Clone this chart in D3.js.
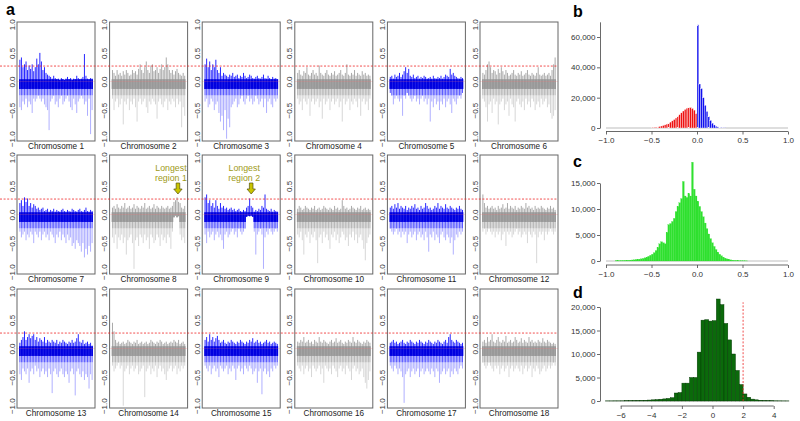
<!DOCTYPE html>
<html><head><meta charset="utf-8">
<script src="https://cdn.jsdelivr.net/npm/d3@7"></script>
<style>
body{margin:0;background:#fff}
svg{display:block}
text{font-family:"Liberation Sans",Arial,Helvetica,sans-serif}
</style>
</head><body>
<svg id="chart" width="800" height="421"></svg>
<script>
// ---------------- DATA ----------------
const chrNames = ["Chromosome 1","Chromosome 2","Chromosome 3","Chromosome 4","Chromosome 5","Chromosome 6",
  "Chromosome 7","Chromosome 8","Chromosome 9","Chromosome 10","Chromosome 11","Chromosome 12",
  "Chromosome 13","Chromosome 14","Chromosome 15","Chromosome 16","Chromosome 17","Chromosome 18"];
const chrHighlighted = [1,0,1,0,1,0,1,0,1,0,1,0,1,0,1,0,1,0];
const aTicks = [-1,-0.5,0,0.5,1];
const aThreshold = 0.27;

// upper / lower envelope of the signal along each chromosome
const up1=[0.38,0.42,0.25,0.3,0.35,0.2,0.28,0.22,0.3,0.18,0.25,0.4,0.3,0.5,0.35,0.2,0.25,0.15,0.12,0.1,0.08,0.05,0.1,0.06,0.04,0.05,0.03,0.06,0.04,0.03,0.05,0.08,0.04,0.06,0.03,0.05,0.04,0.1,0.06,0.04,0.05,0.08,0.48,0.1,0.05,0.04,0.06,0.05];
const dn1=[-0.45,-0.5,-0.35,-0.4,-0.3,-0.45,-0.35,-0.4,-0.55,-0.3,-0.35,-0.3,-0.25,-0.3,-0.35,-0.3,-0.4,-0.45,-0.5,-0.85,-0.35,-0.3,-0.25,-0.4,-0.35,-0.45,-0.3,-0.25,-0.4,-0.35,-0.3,-0.25,-0.35,-0.45,-0.5,-0.3,-0.4,-0.55,-0.35,-0.3,-0.25,-0.3,-0.4,-0.35,-0.6,-0.3,-0.92,-0.5];
const up2=[0.2,0.15,0.1,0.2,0.12,0.15,0.1,0.18,0.12,0.2,0.15,0.1,0.12,0.2,0.15,0.18,0.12,0.22,0.3,0.2,0.15,0.25,0.35,0.2,0.15,0.28,0.3,0.18,0.2,0.25,0.15,0.22,0.3,0.2,0.25,0.42,0.3,0.2,0.15,0.2,0.12,0.18,0.22,0.15,0.12,0.1,0.15,0.1];
const dn2=[-0.3,-0.5,-0.35,-0.3,-0.45,-0.4,-0.3,-0.75,-0.35,-0.4,-0.3,-0.5,-0.35,-0.4,-0.3,-0.45,-0.7,-0.35,-0.3,-0.4,-0.35,-0.3,-0.45,-0.55,-0.35,-0.4,-0.3,-0.35,-0.4,-0.65,-0.35,-0.3,-0.4,-0.45,-0.35,-0.3,-0.5,-0.35,-0.4,-0.3,-0.35,-0.45,-0.3,-0.4,-0.35,-0.8,-0.45,-0.6];
const up3=[0.3,0.4,0.25,0.35,0.2,0.3,0.25,0.38,0.2,0.15,0.25,0.1,0.15,0.12,0.1,0.08,0.12,0.1,0.15,0.08,0.1,0.12,0.06,0.1,0.08,0.15,0.1,0.06,0.08,0.12,0.1,0.06,0.05,0.08,0.1,0.06,0.05,0.08,0.12,0.06,0.05,0.1,0.06,0.04,0.08,0.05,0.06,0.04];
const dn3=[-0.35,-0.3,-0.45,-0.4,-0.3,-0.35,-0.5,-0.4,-0.35,-0.55,-0.7,-0.6,-0.85,-0.5,-1.0,-0.65,-0.8,-0.45,-0.4,-0.35,-0.3,-0.45,-0.4,-0.3,-0.25,-0.35,-0.4,-0.3,-0.25,-0.35,-0.3,-0.4,-0.35,-0.25,-0.3,-0.4,-0.35,-0.3,-0.45,-0.3,-0.55,-0.35,-0.3,-0.4,-0.45,-0.3,-0.35,-0.3];
const up4=[0.15,0.2,0.12,0.1,0.18,0.15,0.25,0.12,0.1,0.15,0.2,0.12,0.15,0.1,0.28,0.15,0.12,0.1,0.15,0.2,0.12,0.1,0.15,0.12,0.18,0.1,0.12,0.15,0.2,0.12,0.1,0.15,0.3,0.12,0.1,0.15,0.12,0.2,0.1,0.15,0.12,0.1,0.18,0.12,0.15,0.1,0.12,0.1];
const dn4=[-0.3,-0.4,-0.35,-0.5,-0.3,-0.35,-0.4,-0.3,-0.6,-0.35,-0.3,-0.4,-0.35,-0.3,-0.45,-0.35,-0.65,-0.3,-0.4,-0.35,-0.3,-0.5,-0.35,-0.3,-0.4,-0.35,-0.3,-0.45,-0.35,-0.7,-0.3,-0.4,-0.35,-0.3,-0.5,-0.35,-0.4,-0.3,-0.35,-0.45,-0.3,-0.6,-0.35,-0.3,-0.4,-0.35,-0.5,-0.3];
const up5=[0.08,0.1,0.05,0.12,0.08,0.1,0.15,0.08,0.12,0.18,0.25,0.15,0.22,0.1,0.08,0.12,0.06,0.08,0.1,0.05,0.08,0.06,0.1,0.08,0.05,0.06,0.08,0.05,0.1,0.06,0.05,0.08,0.06,0.1,0.05,0.08,0.12,0.1,0.08,0.22,0.12,0.15,0.1,0.08,0.06,0.05,0.08,0.06];
const dn5=[-0.2,-0.25,-0.4,-0.3,-0.25,-0.3,-0.35,-0.3,-0.6,-0.25,-0.3,-0.2,-0.25,-0.3,-0.35,-0.3,-0.25,-0.35,-0.3,-0.4,-0.3,-0.25,-0.35,-0.3,-0.4,-0.3,-0.7,-0.35,-0.45,-0.3,-0.4,-0.35,-0.5,-0.35,-0.4,-0.3,-0.45,-0.35,-0.3,-0.4,-0.55,-0.3,-0.35,-0.4,-0.3,-0.25,-0.3,-0.2];
const up6=[0.15,0.12,0.2,0.3,0.35,0.25,0.15,0.2,0.18,0.12,0.22,0.15,0.25,0.18,0.12,0.2,0.15,0.1,0.12,0.15,0.2,0.12,0.1,0.15,0.12,0.18,0.1,0.12,0.15,0.2,0.12,0.1,0.15,0.12,0.1,0.15,0.25,0.12,0.1,0.12,0.15,0.1,0.12,0.15,0.1,0.2,0.3,0.42];
const dn6=[-0.3,-0.35,-0.45,-0.7,-0.4,-0.35,-0.55,-0.3,-0.4,-0.35,-0.75,-0.4,-0.35,-0.3,-0.5,-0.4,-0.35,-0.6,-0.3,-0.4,-0.45,-0.7,-0.35,-0.3,-0.4,-0.45,-0.35,-0.5,-0.3,-0.4,-0.35,-0.45,-0.3,-0.35,-0.5,-0.4,-0.35,-0.45,-0.3,-0.4,-0.35,-0.3,-0.45,-0.4,-0.55,-0.65,-0.6,-0.5];
const up7=[0.2,0.25,0.15,0.3,0.22,0.28,0.15,0.2,0.12,0.18,0.15,0.1,0.12,0.08,0.1,0.12,0.06,0.08,0.1,0.05,0.08,0.06,0.1,0.05,0.08,0.06,0.05,0.08,0.1,0.06,0.05,0.08,0.06,0.05,0.1,0.08,0.06,0.05,0.08,0.1,0.06,0.05,0.08,0.12,0.06,0.05,0.08,0.06];
const dn7=[-0.3,-0.4,-0.35,-0.3,-0.45,-0.35,-0.4,-0.3,-0.35,-0.5,-0.3,-0.35,-0.4,-0.3,-0.45,-0.35,-0.3,-0.4,-0.35,-0.45,-0.3,-0.35,-0.4,-0.5,-0.35,-0.4,-0.3,-0.45,-0.35,-0.4,-0.5,-0.35,-0.45,-0.4,-0.55,-0.5,-0.6,-0.45,-0.5,-0.55,-0.65,-0.5,-0.75,-0.6,-0.7,-0.55,-0.65,-0.5];
const up8=[0.12,0.15,0.1,0.18,0.12,0.1,0.15,0.12,0.2,0.1,0.12,0.15,0.1,0.12,0.18,0.1,0.15,0.12,0.1,0.15,0.12,0.2,0.1,0.12,0.15,0.1,0.12,0.18,0.1,0.15,0.12,0.1,0.15,0.12,0.1,0.12,0.15,0.1,0.12,0.15,0.22,0.25,0.3,0.22,0.2,0.12,0.1,0.15];
const dn8=[-0.4,-0.5,-0.35,-0.6,-0.4,-0.45,-0.35,-0.5,-0.4,-0.7,-0.45,-0.4,-0.35,-0.5,-0.95,-0.45,-0.4,-0.55,-0.35,-0.4,-0.5,-0.35,-0.45,-0.4,-0.6,-0.35,-0.4,-0.5,-0.45,-0.35,-0.4,-0.55,-0.35,-0.45,-0.4,-0.5,-0.35,-0.4,-0.6,-0.3,-0.05,-0.02,-0.05,-0.03,-0.35,-0.45,-0.4,-0.5];
const up9=[0.3,0.35,0.2,0.25,0.15,0.2,0.12,0.25,0.15,0.1,0.2,0.12,0.15,0.1,0.12,0.08,0.1,0.12,0.08,0.1,0.06,0.08,0.1,0.06,0.05,0.08,0.06,0.12,0.15,0.28,0.15,0.12,0.05,0.08,0.06,0.1,0.08,0.15,0.12,0.35,0.1,0.08,0.06,0.1,0.05,0.08,0.06,0.05];
const dn9=[-0.35,-0.5,-0.3,-0.4,-0.35,-0.3,-0.45,-0.35,-0.3,-0.4,-0.35,-0.45,-0.6,-0.35,-0.3,-0.4,-0.35,-0.3,-0.25,-0.35,-0.3,-0.4,-0.25,-0.3,-0.35,-0.3,-0.25,-0.04,-0.02,-0.03,-0.02,-0.04,-0.3,-0.7,-0.35,-0.3,-0.25,-0.35,-0.95,-0.4,-0.3,-0.35,-0.25,-0.3,-0.35,-0.3,-0.25,-0.3];
const up10=[0.1,0.15,0.12,0.08,0.1,0.15,0.12,0.1,0.08,0.12,0.1,0.15,0.08,0.1,0.12,0.08,0.1,0.15,0.12,0.1,0.08,0.12,0.1,0.08,0.15,0.1,0.12,0.08,0.1,0.25,0.15,0.1,0.12,0.08,0.1,0.15,0.12,0.1,0.08,0.12,0.1,0.15,0.08,0.1,0.12,0.08,0.1,0.08];
const dn10=[-0.35,-0.4,-0.3,-0.45,-0.7,-0.35,-0.4,-0.3,-0.5,-0.35,-0.4,-0.3,-0.45,-0.85,-0.4,-0.35,-0.5,-0.3,-0.4,-0.35,-0.45,-0.6,-0.35,-0.4,-0.3,-0.45,-0.35,-0.5,-0.4,-0.3,-0.35,-0.45,-0.4,-0.55,-0.35,-0.4,-0.3,-0.45,-0.35,-0.5,-0.4,-0.35,-0.45,-0.6,-0.8,-0.5,-0.4,-0.35];
const up11=[0.12,0.15,0.1,0.18,0.12,0.2,0.1,0.15,0.12,0.1,0.15,0.08,0.12,0.1,0.15,0.12,0.18,0.1,0.12,0.08,0.15,0.1,0.12,0.2,0.15,0.1,0.12,0.08,0.1,0.15,0.12,0.2,0.1,0.15,0.12,0.1,0.18,0.12,0.1,0.15,0.12,0.1,0.08,0.12,0.1,0.15,0.1,0.08];
const dn11=[-0.25,-0.3,-0.35,-0.3,-0.25,-0.35,-0.3,-0.4,-0.3,-0.35,-0.3,-0.5,-0.35,-0.3,-0.4,-0.35,-0.3,-0.45,-0.35,-0.3,-0.4,-0.35,-0.45,-0.3,-0.4,-0.65,-0.35,-0.4,-0.3,-0.45,-0.35,-0.4,-0.5,-0.35,-0.3,-0.4,-0.45,-0.35,-0.4,-0.5,-0.4,-0.7,-0.45,-0.35,-0.4,-0.3,-0.35,-0.3];
const up12=[0.35,0.2,0.12,0.15,0.1,0.12,0.15,0.1,0.12,0.08,0.15,0.1,0.12,0.18,0.1,0.12,0.2,0.1,0.15,0.12,0.1,0.15,0.08,0.12,0.1,0.15,0.12,0.1,0.2,0.12,0.15,0.1,0.12,0.08,0.15,0.1,0.12,0.1,0.15,0.12,0.1,0.08,0.12,0.1,0.15,0.1,0.12,0.08];
const dn12=[-0.3,-0.25,-0.35,-0.3,-0.25,-0.3,-0.35,-0.3,-0.4,-0.3,-0.35,-0.3,-0.45,-0.35,-0.3,-0.55,-0.3,-0.35,-0.3,-0.4,-0.35,-0.3,-0.25,-0.35,-0.3,-0.4,-0.35,-0.3,-0.35,-0.5,-0.3,-0.35,-0.4,-0.3,-0.35,-0.85,-0.4,-0.3,-0.35,-0.3,-0.45,-0.3,-0.35,-0.3,-0.25,-0.3,-0.35,-0.3];
const up13=[0.1,0.15,0.2,0.3,0.15,0.2,0.25,0.18,0.22,0.25,0.15,0.2,0.12,0.18,0.15,0.12,0.2,0.1,0.15,0.12,0.1,0.15,0.12,0.1,0.15,0.08,0.12,0.1,0.15,0.12,0.1,0.08,0.12,0.1,0.15,0.1,0.12,0.18,0.25,0.12,0.1,0.15,0.08,0.1,0.12,0.08,0.1,0.05];
const dn13=[-0.45,-0.55,-0.35,-0.4,-0.45,-0.35,-0.6,-0.4,-0.35,-0.45,-0.3,-0.4,-0.35,-0.5,-0.4,-0.35,-0.45,-0.4,-0.5,-0.35,-0.45,-0.78,-0.4,-0.35,-0.45,-0.5,-0.4,-0.35,-0.45,-0.5,-0.4,-0.45,-0.6,-0.4,-0.35,-0.45,-0.82,-0.4,-0.35,-0.45,-0.5,-0.4,-0.55,-0.45,-0.5,-0.7,-0.45,-0.55];
const up14=[0.45,0.3,0.15,0.1,0.12,0.08,0.1,0.12,0.08,0.1,0.15,0.12,0.1,0.08,0.12,0.1,0.15,0.08,0.1,0.12,0.08,0.1,0.12,0.08,0.1,0.15,0.12,0.1,0.08,0.12,0.1,0.15,0.12,0.08,0.1,0.12,0.08,0.1,0.12,0.1,0.15,0.12,0.1,0.15,0.08,0.1,0.12,0.08];
const dn14=[-0.3,-0.4,-0.35,-0.3,-0.25,-0.35,-0.3,-1.0,-0.4,-0.35,-0.3,-0.45,-0.35,-0.3,-0.4,-0.35,-0.3,-0.45,-0.4,-0.35,-0.3,-0.85,-0.4,-0.35,-0.3,-0.45,-0.35,-0.4,-0.3,-0.5,-0.35,-0.3,-0.4,-0.35,-0.45,-0.55,-0.4,-0.35,-0.3,-0.4,-0.35,-0.3,-0.45,-0.35,-0.4,-0.3,-0.35,-0.3];
const up15=[0.15,0.2,0.12,0.25,0.15,0.2,0.12,0.18,0.22,0.15,0.1,0.12,0.15,0.1,0.08,0.12,0.1,0.15,0.12,0.1,0.08,0.12,0.1,0.15,0.12,0.1,0.08,0.12,0.1,0.15,0.12,0.18,0.1,0.12,0.15,0.1,0.12,0.08,0.1,0.12,0.15,0.1,0.12,0.08,0.1,0.12,0.1,0.08];
const dn15=[-0.3,-0.35,-0.4,-0.3,-0.45,-0.35,-0.3,-0.4,-0.35,-0.5,-0.3,-0.35,-0.4,-0.35,-0.3,-0.45,-0.35,-0.4,-0.3,-0.35,-0.55,-0.35,-0.3,-0.4,-0.35,-0.45,-0.3,-0.35,-0.4,-0.3,-0.35,-0.45,-0.4,-0.35,-0.6,-0.4,-0.35,-0.8,-0.4,-0.35,-0.45,-0.4,-0.5,-0.35,-0.4,-0.3,-0.35,-0.3];
const up16=[0.12,0.1,0.15,0.12,0.2,0.1,0.12,0.15,0.1,0.12,0.08,0.15,0.12,0.1,0.2,0.12,0.1,0.15,0.12,0.1,0.08,0.12,0.15,0.1,0.12,0.18,0.1,0.12,0.15,0.1,0.08,0.12,0.1,0.15,0.12,0.1,0.2,0.12,0.1,0.15,0.12,0.1,0.08,0.12,0.1,0.15,0.12,0.1];
const dn16=[-0.3,-0.35,-0.4,-0.3,-0.45,-0.35,-0.3,-0.4,-0.35,-0.5,-0.3,-0.35,-0.4,-0.35,-0.3,-0.45,-0.35,-0.6,-0.3,-0.35,-0.4,-0.35,-0.45,-0.3,-0.35,-0.4,-0.5,-0.35,-0.3,-0.4,-0.35,-0.45,-0.3,-0.35,-0.4,-0.55,-0.35,-0.3,-0.4,-0.35,-0.45,-0.4,-0.35,-0.5,-0.6,-0.7,-0.55,-0.4];
const up17=[0.1,0.12,0.15,0.1,0.12,0.08,0.1,0.12,0.15,0.1,0.08,0.12,0.1,0.15,0.12,0.1,0.08,0.12,0.1,0.15,0.12,0.1,0.08,0.12,0.1,0.15,0.12,0.1,0.08,0.12,0.1,0.15,0.12,0.1,0.08,0.12,0.15,0.1,0.2,0.25,0.15,0.12,0.1,0.15,0.12,0.1,0.08,0.1];
const dn17=[-0.3,-0.35,-0.4,-0.3,-0.35,-0.45,-0.35,-0.4,-0.5,-0.95,-0.45,-0.4,-0.35,-0.5,-0.4,-0.35,-0.45,-0.4,-0.35,-0.5,-0.4,-0.35,-0.45,-0.4,-0.35,-0.4,-0.45,-0.35,-0.4,-0.5,-0.35,-0.4,-0.6,-0.45,-0.4,-0.35,-0.45,-0.4,-0.35,-0.5,-0.4,-0.45,-0.35,-0.4,-0.45,-0.35,-0.3,-0.35];
const up18=[0.12,0.15,0.1,0.2,0.12,0.15,0.25,0.12,0.1,0.15,0.2,0.12,0.1,0.15,0.12,0.22,0.1,0.12,0.15,0.1,0.12,0.2,0.15,0.1,0.12,0.18,0.1,0.15,0.12,0.1,0.2,0.12,0.15,0.1,0.12,0.1,0.15,0.12,0.1,0.18,0.12,0.1,0.15,0.12,0.1,0.08,0.1,0.08];
const dn18=[-0.25,-0.3,-0.35,-0.3,-0.25,-0.3,-0.35,-0.4,-0.3,-0.35,-0.3,-0.45,-0.35,-0.3,-0.4,-0.35,-0.3,-0.5,-0.35,-0.3,-0.4,-0.35,-0.3,-0.35,-0.4,-0.3,-0.45,-0.35,-0.3,-0.4,-0.35,-0.3,-0.5,-0.35,-0.4,-0.3,-0.35,-0.45,-0.4,-0.35,-0.3,-0.4,-0.35,-0.3,-0.35,-0.3,-0.25,-0.3];
const chrUp = [up1,up2,up3,up4,up5,up6,up7,up8,up9,up10,up11,up12,up13,up14,up15,up16,up17,up18];
const chrDown = [dn1,dn2,dn3,dn4,dn5,dn6,dn7,dn8,dn9,dn10,dn11,dn12,dn13,dn14,dn15,dn16,dn17,dn18];

// annotations: chromosome index (0-based), text lines, position along chromosome (sample index)
const annotChr = [7, 8];
const annotText = [["Longest","region 1"],["Longest","region 2"]];
const annotPos = [42.6, 30];

// histogram b
const bStart = -0.5, bWidth = 0.02;
const bCounts = [300,400,600,800,1000,1300,1700,2100,2600,3200,3900,4700,5600,6600,7700,8800,10000,11200,12300,13100,13600,13500,12900,11800,9500,
  68000,29000,26000,20000,15000,11000,7500,5000,3200,2000,1200,700,400,250,150,100];
const bXTicks = [-1,-0.5,0,0.5,1];
const bYTicks = [0,20000,40000,60000];

// histogram c
const cStart = -0.9, cWidth = 0.02;
const cCounts = [50,60,70,80,90,100,120,140,170,200,230,270,310,360,420,500,600,750,900,1100,
  1300,1600,2000,2600,3300,3700,3500,3300,5500,7000,7200,7600,8200,9500,10500,11200,12000,15300,12500,12200,
  13000,12500,19000,13800,12500,
  11500,10500,9500,8500,7300,6200,5200,4300,3500,2800,2200,1700,1300,1000,750,550,400,300,220,160,120,90,70,50,40,30,20,10];
const cXTicks = [-1,-0.5,0,0.5,1];
const cYTicks = [0,5000,10000,15000];

// histogram d
const dStart = -7, dWidth = 0.25;
const dCounts = [20,20,30,30,40,50,60,80,100,120,150,200,250,300,380,450,
  550,700,1700,1800,3800,3800,5000,5000,10400,17200,17300,17000,17100,21700,20500,16500,13000,10000,6500,3500,
  1500,800,400,250,150,100,70,50,40,30,20,15];
const dXTicks = [-6,-4,-2,0,2,4];
const dYTicks = [0,5000,10000,15000,20000];
const dThreshold = 2;

// ---------------- DRAW ----------------
const svg = d3.select("#chart");
const FONT = '"Liberation Sans",Arial,Helvetica,sans-serif';
const fmt1 = d3.format(".1f");

const L = {col0: 17, colStep: 92.6, w: 78, rowTops: [22, 155, 289], h: 119};

function rowY(r){
  const top = L.rowTops[r];
  return d3.scaleLinear().domain([-1.04, 1.04]).range([top + L.h, top]);
}

chrNames.forEach((name, k) => {
  const r = Math.floor(k / 6), c = k % 6;
  const left = L.col0 + c * L.colStep, top = L.rowTops[r];
  const up = chrUp[k], dn = chrDown[k];
  const n = up.length;
  const pad = L.w * 0.04 / 1.08;
  const x = d3.scaleLinear().domain([0, n - 1]).range([left + pad, left + L.w - pad]);
  const y = rowY(r);
  const hi = chrHighlighted[k] === 1;
  const colMain = hi ? "#0000ff" : "#9b9b9b";
  const g = svg.append("g");
  const seg = (sel, y1, y2, op, w, col) => sel.join("line")
    .attr("x1", (d, i) => x(i)).attr("x2", (d, i) => x(i))
    .attr("y1", y1).attr("y2", y2)
    .attr("stroke", col || colMain).attr("stroke-opacity", op).attr("stroke-width", w);

  // deep spikes (light)
  seg(g.selectAll(null).data(dn), y(0), d => y(Math.min(d, 0)), hi ? 0.42 : 0.55, 0.75);
  // middle depth (denser)
  seg(g.selectAll(null).data(dn), y(0), d => y(Math.max(Math.min(d, 0), -0.24)), hi ? 0.55 : 0.6, 0.9);
  // upper spikes
  seg(g.selectAll(null).data(up), y(0), d => y(d), 0.95, 0.9);
  // dense core
  seg(g.selectAll(null).data(dn), (d, i) => y(Math.min(up[i] ?? 0, 0.04)),
      d => y(Math.max(Math.min(d, 0), -0.13)), 1, 1.7, hi ? "#0000e0" : "#999");

  // zero line
  g.append("line").attr("x1", left).attr("x2", left + L.w)
    .attr("y1", y(0)).attr("y2", y(0))
    .attr("stroke", "#ff7070").attr("stroke-opacity", 0.35).attr("stroke-width", 0.6);

  // box
  g.append("rect").attr("x", left).attr("y", top).attr("width", L.w).attr("height", L.h)
    .attr("fill", "none").attr("stroke", "#666").attr("stroke-width", 1);

  // y axis labels (rotated)
  const ax = g.append("g").attr("transform", `translate(${left},0)`)
    .call(d3.axisLeft(y).tickValues(aTicks).tickSize(0).tickFormat(fmt1));
  ax.select(".domain").remove();
  ax.selectAll("text")
    .attr("x", null).attr("dy", null)
    .attr("transform", "translate(-2.5,0) rotate(-90)")
    .attr("text-anchor", "middle")
    .attr("font-size", 8).attr("font-family", FONT).attr("fill", "#333");

  // chromosome label
  g.append("text").attr("x", left + L.w / 2).attr("y", top + L.h + 7.8)
    .attr("text-anchor", "middle").attr("font-size", 8.2).attr("font-family", FONT)
    .attr("fill", "#222").text(name);
});

// threshold dashed lines spanning each row
[0, 1, 2].forEach(r => {
  const y = rowY(r);
  svg.append("line").attr("x1", 0).attr("x2", L.col0 + 5 * L.colStep + L.w)
    .attr("y1", y(aThreshold)).attr("y2", y(aThreshold))
    .attr("stroke", "#ee2222").attr("stroke-width", 0.8).attr("stroke-dasharray", "2,1.6");
});

// annotations
annotChr.forEach((k, j) => {
  const c = k % 6;
  const left = L.col0 + c * L.colStep;
  const n = chrUp[k].length;
  const pad = L.w * 0.04 / 1.08;
  const x = d3.scaleLinear().domain([0, n - 1]).range([left + pad, left + L.w - pad]);
  const ax = x(annotPos[j]);
  const tx = ax - 7;
  annotText[j].forEach((t, li) => {
    svg.append("text").attr("x", tx).attr("y", 171 + li * 9.6)
      .attr("text-anchor", "middle").attr("font-size", 8.8).attr("font-family", FONT)
      .attr("fill", "#9e9a18").text(t);
  });
  svg.append("path")
    .attr("d", "M-1.8,0 L1.8,0 L1.8,6 L4.2,6 L0,11 L-4.2,6 L-1.8,6 Z")
    .attr("transform", `translate(${ax},183)`)
    .attr("fill", "#c9c400").attr("stroke", "#55520a").attr("stroke-width", 0.7);
});

// panel letters
const letters = [["a", 6, 15], ["b", 573, 17], ["c", 573, 167], ["d", 573, 298]];
letters.forEach(([t, lx, ly]) => {
  svg.append("text").attr("x", lx).attr("y", ly).attr("font-size", 16)
    .attr("font-weight", "bold").attr("font-family", FONT).attr("fill", "#000").text(t);
});

// histogram helper
function histogram(opts) {
  const {start, width, counts, xDomain, xRange, yDomain, yRange, axisY, xTicks, yTicks, xFmt, fill, stroke, strokeW, colorFn, baseFrom, baseTo} = opts;
  const x = d3.scaleLinear().domain(xDomain).range(xRange);
  const y = d3.scaleLinear().domain(yDomain).range(yRange);
  const g = svg.append("g");
  g.append("line").attr("x1", x(baseFrom)).attr("x2", x(baseTo))
    .attr("y1", y(0)).attr("y2", y(0)).attr("stroke", "#bdbdbd").attr("stroke-width", 1);
  g.selectAll(null).data(counts).join("rect")
    .attr("x", (d, i) => x(start + i * width))
    .attr("width", (d, i) => x(start + (i + 1) * width) - x(start + i * width))
    .attr("y", d => y(d))
    .attr("height", d => y(0) - y(d))
    .attr("fill", (d, i) => colorFn ? colorFn(start + i * width) : fill)
    .attr("stroke", stroke).attr("stroke-width", strokeW);
  const xa = g.append("g").attr("transform", `translate(0,${axisY})`)
    .call(d3.axisBottom(x).tickValues(xTicks).tickSize(3).tickSizeOuter(0).tickFormat(xFmt));
  xa.select(".domain").attr("d", `M${x(xTicks[0])},0H${x(xTicks[xTicks.length-1])}`);
  const ya = g.append("g").attr("transform", `translate(600,0)`)
    .call(d3.axisLeft(y).tickValues(yTicks).tickSize(3).tickSizeOuter(0).tickFormat(d3.format(",")));
  [xa, ya].forEach(a => {
    a.selectAll("text").attr("font-size", 8).attr("font-family", FONT).attr("fill", "#333");
    a.selectAll("line,path").attr("stroke", "#444").attr("stroke-width", 0.8);
  });
  ya.selectAll("text").attr("x", -4.5);
  return {x, y, g};
}

// b
histogram({start: bStart, width: bWidth, counts: bCounts,
  xDomain: [-1, 1], xRange: [606, 788], yDomain: [0, 70000], yRange: [128, 128 - 91 * 70 / 60],
  axisY: 131.5, xTicks: bXTicks, yTicks: bYTicks, xFmt: fmt1,
  stroke: "#fff", strokeW: 0.35, colorFn: v => v < 0 ? "#ee1111" : "#1010ee",
  baseFrom: -1, baseTo: 1});

// c
histogram({start: cStart, width: cWidth, counts: cCounts,
  xDomain: [-1, 1], xRange: [606, 788], yDomain: [0, 15000], yRange: [261, 183],
  axisY: 265, xTicks: cXTicks, yTicks: cYTicks, xFmt: fmt1,
  fill: "#2fe02f", stroke: "#2fe02f", strokeW: 0.2, baseFrom: -1, baseTo: 1});

// d
const dh = histogram({start: dStart, width: dWidth, counts: dCounts,
  xDomain: [-6, 4], xRange: [620.7, 773.7], yDomain: [0, 20000], yRange: [401, 307],
  axisY: 406, xTicks: dXTicks, yTicks: dYTicks, xFmt: d3.format("d"),
  fill: "#0b6a0b", stroke: "#043804", strokeW: 0.45, baseFrom: -7, baseTo: 5});
dh.g.append("line").attr("x1", dh.x(dThreshold)).attr("x2", dh.x(dThreshold))
  .attr("y1", dh.y(0)).attr("y2", dh.y(21000))
  .attr("stroke", "#ee2222").attr("stroke-width", 0.8).attr("stroke-dasharray", "2,1.6");
</script>
</body></html>
